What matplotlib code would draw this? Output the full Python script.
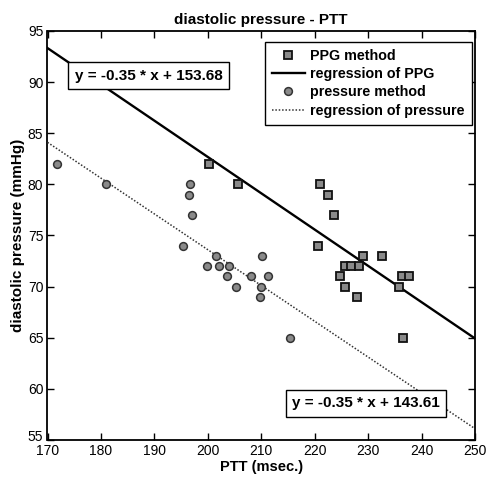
import numpy as np
import matplotlib
matplotlib.use("Agg")
import matplotlib.pyplot as plt
import matplotlib.transforms as mtransforms

# PPG method (squares)
ppg_x = [200.3, 205.6, 221.0, 222.5, 223.7, 220.7, 229.1, 232.6, 225.7, 226.8,
         228.3, 224.8, 225.7, 227.9, 235.8, 236.4, 237.6, 236.5]
ppg_y = [82, 80, 80, 79, 77, 74, 73, 73, 72, 72,
         72, 71, 70, 69, 70, 71, 71, 65]

# pressure method (circles)
prs_x = [171.7, 181.0, 196.6, 196.4, 197.0, 195.4, 199.8, 201.6, 202.0, 203.9,
         203.6, 205.2, 208.1, 210.2, 210.0, 209.8, 211.3, 215.3]
prs_y = [82, 80, 80, 79, 77, 74, 72, 73, 72, 72,
         71, 70, 71, 73, 70, 69, 71, 65]

# regression lines (slope, intercept) as drawn
ppg_fit = [-0.355, 153.68]
prs_fit = [-0.35, 143.61]
ppg_eq = "y = -0.35 * x + 153.68"
prs_eq = "y = -0.35 * x + 143.61"

x_ticks = [170, 180, 190, 200, 210, 220, 230, 240, 250]
y_ticks = [55, 60, 65, 70, 75, 80, 85, 90, 95]

plt.rcParams['font.family'] = ['Liberation Sans', 'DejaVu Sans']

fig = plt.figure(figsize=(4.89, 4.83), dpi=100)
ax = fig.add_axes([47.5/489, 43/483, 427.5/489, 409/483])

xs = np.array([170, 250])
ax.plot(ppg_x, ppg_y, linestyle='none', marker='s', markersize=5.2,
        markerfacecolor='#8a8a8a', markeredgecolor='#111111', markeredgewidth=1.3,
        label='PPG method', zorder=4)
ax.plot(xs, ppg_fit[0]*xs + ppg_fit[1], color='black', lw=1.7,
        label='regression of PPG', zorder=3)
ax.plot(prs_x, prs_y, linestyle='none', marker='o', markersize=5.6,
        markerfacecolor='#8a8a8a', markeredgecolor='#333333', markeredgewidth=1.1,
        label='pressure method', zorder=4)
ax.plot(xs, prs_fit[0]*xs + prs_fit[1], color='#333333', lw=1.1, linestyle=(0, (1, 1.2)),
        label='regression of pressure', zorder=3)

ax.set_xlim(170, 250)
ax.set_ylim(55, 95)
ax.set_xticks(x_ticks)
ax.set_yticks(y_ticks)
ax.tick_params(direction='in', length=5, width=1, top=True, right=True,
               labelsize=10, pad=3)
for s in ax.spines.values():
    s.set_linewidth(1.3)

# nudge the lowest y label up slightly (as in the reference)
lbl55 = ax.get_yticklabels()[0]
lbl55.set_transform(lbl55.get_transform() +
                    mtransforms.ScaledTranslation(0, 4/100, fig.dpi_scale_trans))

ax.set_title('diastolic pressure - PTT', fontsize=11, fontweight='bold', pad=5)
ax.set_xlabel('PTT (msec.)', fontsize=10.5, fontweight='bold', labelpad=1)
ax.set_ylabel('diastolic pressure (mmHg)', fontsize=11, fontweight='bold', labelpad=2)

bbox = dict(boxstyle='square,pad=0.42', facecolor='white', edgecolor='black', lw=1)
ax.text(0.236, 0.891, ppg_eq, transform=ax.transAxes, ha='center', va='center',
        fontsize=11, fontweight='bold', bbox=bbox, zorder=6)
ax.text(0.745, 0.0897, prs_eq, transform=ax.transAxes, ha='center', va='center',
        fontsize=11, fontweight='bold', bbox=bbox, zorder=6)

leg = ax.legend(loc='upper right', bbox_to_anchor=(0.992, 0.974),
                prop={'size': 10.3, 'weight': 'bold'},
                frameon=True, fancybox=False, edgecolor='black', framealpha=1,
                handlelength=2.3, handletextpad=0.35, borderpad=0.5, labelspacing=0.3,
                borderaxespad=0)
leg.get_frame().set_linewidth(1)
leg.set_zorder(7)

fig.savefig('out.png', dpi=100)
